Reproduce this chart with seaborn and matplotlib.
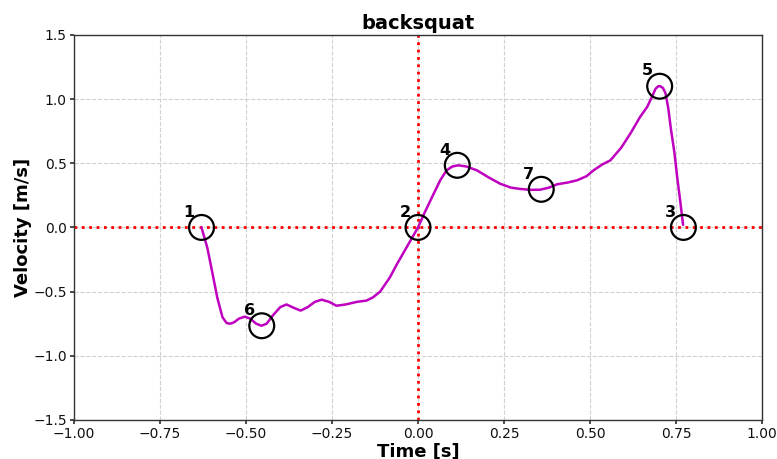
import matplotlib
matplotlib.use("Agg")
import matplotlib.pyplot as plt
import seaborn as sns
import pandas as pd

# velocity trace
time_s = [-0.629, -0.612, -0.597, -0.583, -0.568, -0.556, -0.546, -0.535, -0.520, -0.503,
          -0.488, -0.470, -0.455, -0.440, -0.420, -0.400, -0.382, -0.362, -0.341, -0.320,
          -0.300, -0.280, -0.258, -0.237, -0.210, -0.178, -0.150, -0.131, -0.110, -0.082,
          -0.060, -0.033, 0.000, 0.020, 0.045, 0.065, 0.083, 0.100, 0.117, 0.140,
          0.171, 0.205, 0.239, 0.270, 0.297, 0.325, 0.355, 0.380, 0.404, 0.435,
          0.462, 0.490, 0.510, 0.535, 0.559, 0.590, 0.617, 0.645, 0.666, 0.680,
          0.690, 0.698, 0.704, 0.712, 0.719, 0.727, 0.734, 0.745, 0.753, 0.762, 0.770]
velocity = [0.00, -0.16, -0.36, -0.55, -0.70, -0.745, -0.750, -0.740, -0.710, -0.695,
            -0.710, -0.750, -0.766, -0.750, -0.680, -0.620, -0.600, -0.625, -0.648, -0.620,
            -0.580, -0.563, -0.580, -0.610, -0.600, -0.580, -0.570, -0.545, -0.500, -0.390,
            -0.280, -0.154, 0.000, 0.120, 0.260, 0.370, 0.445, 0.475, 0.484, 0.475,
            0.445, 0.390, 0.340, 0.310, 0.300, 0.293, 0.294, 0.310, 0.336, 0.350,
            0.367, 0.400, 0.445, 0.490, 0.523, 0.620, 0.732, 0.860, 0.940, 1.020,
            1.080, 1.100, 1.100, 1.085, 1.045, 0.930, 0.780, 0.580, 0.390, 0.200, 0.020]

# key events
event_labels = ["1", "2", "3", "4", "5", "6", "7"]
event_time = [-0.629, 0.0, 0.771, 0.114, 0.702, -0.454, 0.358]
event_vel = [0.0, 0.0, 0.0, 0.484, 1.10, -0.766, 0.297]

trace = pd.DataFrame({"t": time_s, "v": velocity})
events = pd.DataFrame({"t": event_time, "v": event_vel, "label": event_labels})

sns.set_theme(style="whitegrid", rc={
    "grid.linestyle": "--", "grid.color": "#d0d0d0", "grid.linewidth": 0.8,
    "axes.edgecolor": "#333333", "axes.linewidth": 1.0,
    "xtick.bottom": True, "ytick.left": True,
    "xtick.major.size": 3, "ytick.major.size": 3,
    "xtick.color": "#333333", "ytick.color": "#333333",
    "xtick.labelcolor": "#111111", "ytick.labelcolor": "#111111",
    "text.color": "black", "axes.labelcolor": "black",
})
plt.rcParams["font.family"] = ["DejaVu Sans"]

fig, ax = plt.subplots(figsize=(7.77, 4.59), dpi=100)
fig.subplots_adjust(left=0.095, right=0.981, top=0.924, bottom=0.085)

ax.axhline(0, color="red", linestyle=":", linewidth=2)
ax.axvline(0, color="red", linestyle=":", linewidth=2)

sns.lineplot(data=trace, x="t", y="v", color="#bf00bf", linewidth=1.8,
             sort=False, ax=ax)
sns.scatterplot(data=events, x="t", y="v", s=320, facecolor="none",
                edgecolor="black", linewidth=1.6, ax=ax, zorder=5)

for _, row in events.iterrows():
    ax.annotate(row["label"], (row["t"], row["v"]), xytext=(-9, 11),
                textcoords="offset points", ha="center", va="center",
                fontsize=11.5, fontweight="bold", color="black")

ax.set_xlim(-1, 1)
ax.set_ylim(-1.5, 1.5)
ax.set_xticks([-1, -0.75, -0.5, -0.25, 0, 0.25, 0.5, 0.75, 1])
ax.set_xticklabels(["\u22121.00", "\u22120.75", "\u22120.50", "\u22120.25", "0.00",
                    "0.25", "0.50", "0.75", "1.00"])
ax.set_yticks([-1.5, -1.0, -0.5, 0, 0.5, 1.0, 1.5])
ax.tick_params(labelsize=10, pad=2)
ax.set_title("backsquat", fontsize=14, fontweight="bold", pad=4)
ax.set_xlabel("Time [s]", fontsize=13, fontweight="bold", labelpad=1)
ax.set_ylabel("Velocity [m/s]", fontsize=13, fontweight="bold", labelpad=1)

fig.savefig("out.png", dpi=100)
